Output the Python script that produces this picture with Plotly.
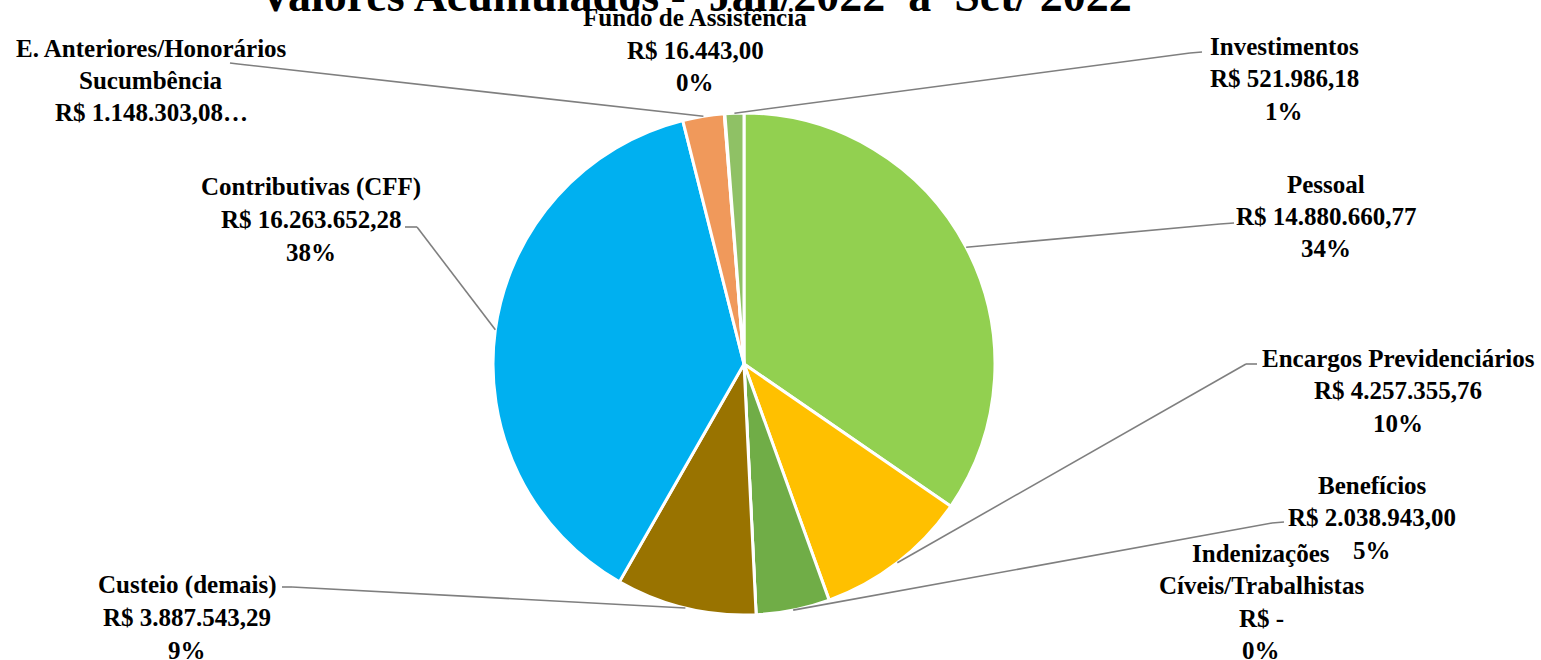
import math
import plotly.graph_objects as go

# ---------------- data ----------------
categories = [
    "Pessoal",
    "Encargos Previdenciários",
    "Benefícios",
    "Indenizações Cíveis/Trabalhistas",
    "Custeio (demais)",
    "Contributivas (CFF)",
    "E. Anteriores/Honorários Sucumbência",
    "Fundo de Assistência",
    "Investimentos",
]
values = [14880660.77, 4257355.76, 2038943.00, 0.0, 3887543.29,
          16263652.28, 1148303.08, 16443.00, 521986.18]
name_lines = [
    ["Pessoal"],
    ["Encargos Previdenciários"],
    ["Benefícios"],
    ["Indenizações", "Cíveis/Trabalhistas"],
    ["Custeio (demais)"],
    ["Contributivas (CFF)"],
    ["E. Anteriores/Honorários", "Sucumbência"],
    ["Fundo de Assistência"],
    ["Investimentos"],
]
value_labels = ["R$ 14.880.660,77", "R$ 4.257.355,76", "R$ 2.038.943,00", "R$ -",
                "R$ 3.887.543,29", "R$ 16.263.652,28", "R$ 1.148.303,08…",
                "R$ 16.443,00", "R$ 521.986,18"]
pct_labels = ["34%", "10%", "5%", "0%", "9%", "38%", None, "0%", "1%"]
title_text = "Valores Acumulados -  Jan/2022  a  Set/ 2022"

colors = ["#92D050", "#FFC000", "#70AD47", "#5B9BD5", "#997300",
          "#00B0F0", "#F0995B", "#A5A5A5", "#8FC165"]

# ---------------- layout (pixels) ----------------
W, H = 1541, 660
CX, CY, R = 744, 364, 251
FONT = "Liberation Serif"
FS = 25
LINE_H = 32.5

# label block: (center x, first-line center y)
label_pos = [
    (1326, 184),
    (1398, 358),
    (1372, 485),
    (1261, 553),
    (187, 585),
    (311, 187),
    (151, 48),
    (695, 18),
    (1284, 46),
]
# leader line: label-side end, elbow (None = no leader)
leaders = [
    ((1234, 223), (1220, 224)),
    ((1257, 364), (1246, 364)),
    ((1284, 522), (1272, 523)),
    None,
    ((282, 587), (292, 587)),
    ((405, 227), (417, 227)),
    ((230, 63), (238, 64)),
    None,
    ((1202, 52), (1190, 53)),
]


def px(x):
    return x / W


def py(y):
    return 1 - y / H


fig = go.Figure(go.Pie(
    labels=categories,
    values=values,
    sort=False,
    direction="clockwise",
    rotation=0,
    textinfo="none",
    marker=dict(colors=colors, line=dict(color="white", width=3)),
    domain=dict(x=[px(CX - R), px(CX + R)], y=[py(CY + R), py(CY - R)]),
    showlegend=False,
))

annotations = []
shapes = []
total = sum(values)
cum = 0.0
for i, v in enumerate(values):
    mid = (cum + v / 2) / total
    cum += v
    ang = 2 * math.pi * mid
    ax = CX + R * math.sin(ang)
    ay = CY - R * math.cos(ang)

    lines = list(name_lines[i]) + [value_labels[i]]
    if pct_labels[i] is not None:
        lines.append(pct_labels[i])
    lx, ly = label_pos[i]
    for k, t in enumerate(lines):
        annotations.append(dict(
            x=px(lx), y=py(ly + k * LINE_H), xref="paper", yref="paper",
            text="<b>" + t + "</b>", showarrow=False,
            xanchor="center", yanchor="middle",
            font=dict(family=FONT, size=FS, color="black"),
        ))

    if leaders[i] is not None:
        (ex, ey), (bx, by) = leaders[i]
        for (x0, y0, x1, y1) in [(ex, ey, bx, by), (bx, by, ax, ay)]:
            shapes.append(dict(
                type="line", xref="paper", yref="paper",
                x0=px(x0), y0=py(y0), x1=px(x1), y1=py(y1),
                line=dict(color="#7F7F7F", width=1.6),
            ))

annotations.append(dict(
    x=px(695), y=py(-4), xref="paper", yref="paper",
    text="<b>" + title_text + "</b>", showarrow=False,
    xanchor="center", yanchor="middle",
    font=dict(family=FONT, size=46, color="black"),
))

fig.update_layout(
    width=W, height=H,
    margin=dict(l=0, r=0, t=0, b=0),
    paper_bgcolor="white", plot_bgcolor="white",
    annotations=annotations, shapes=shapes,
)

fig.write_html("out.html", config={"displayModeBar": False},
               post_script="document.body.style.margin='0';")
